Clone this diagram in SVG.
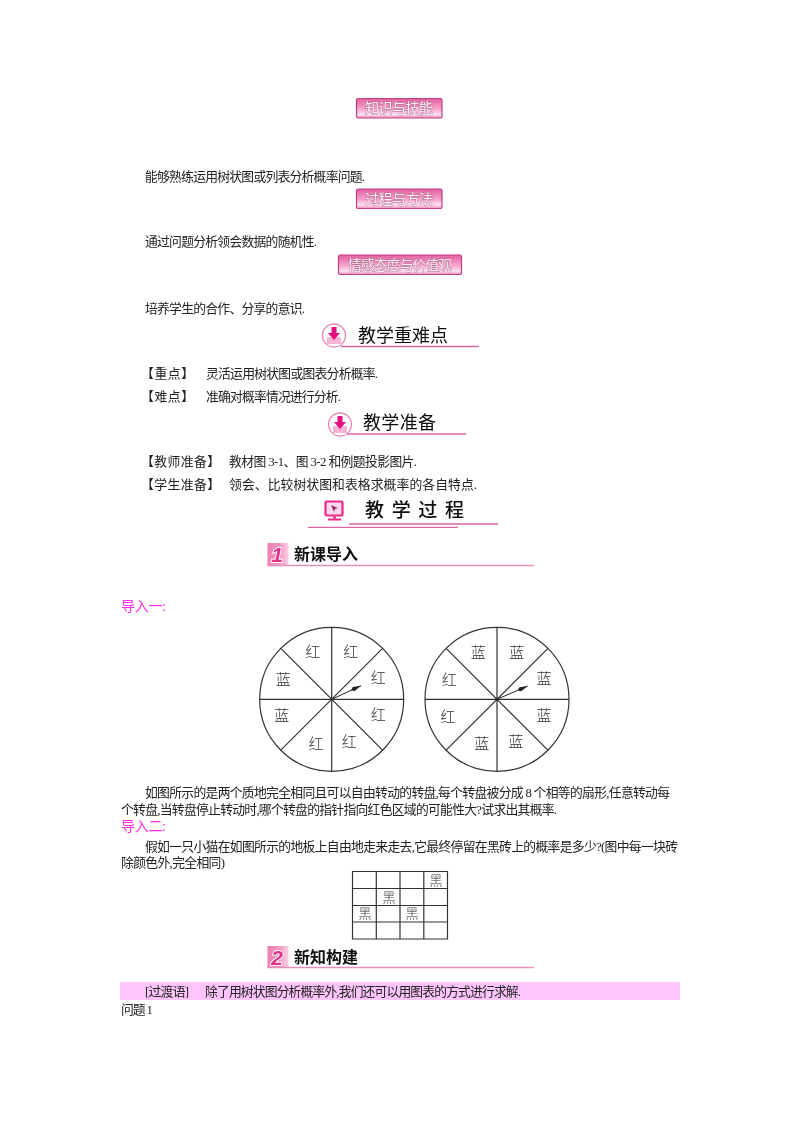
<svg xmlns="http://www.w3.org/2000/svg" width="800" height="1132" viewBox="0 0 800 1132">
<style>
text{font-family:"Liberation Serif","Noto Sans CJK SC",serif}
.b{font-size:12.800px;fill:#222}
.m{font-size:14px;fill:#ff2fe0}
.bt{font-size:14px;fill:#fdf0f7;stroke:#b0628c;stroke-width:.800;paint-order:stroke;text-anchor:middle;font-family:"Noto Sans CJK SC",sans-serif;font-weight:400}
.h{fill:#111;font-family:"Noto Sans CJK SC",sans-serif}
.w{font-size:15px;fill:#333;text-anchor:middle;font-family:"Noto Sans CJK SC",sans-serif;font-weight:300}
.g{font-size:13px;fill:#333;text-anchor:middle;font-family:"Noto Sans CJK SC",sans-serif;font-weight:300}
.r{fill:url(#bg);stroke:#c23f82;stroke-width:1.200}
.u{stroke:#d765a8;stroke-width:1.300;fill:none}
.u2{stroke:#e58fbd;stroke-width:1.500;fill:none}
.s{stroke:#333;stroke-width:1.200;fill:none}
.gl{stroke:#333;stroke-width:1.200;fill:none}
.c{fill:#fff;stroke:#e884b8;stroke-width:1.300}
.ar{fill:#e6107e}
.tray{fill:#f6b5d5}
.bd{fill:url(#bd)}
.nm{font-size:21px;font-weight:700;font-style:italic;fill:#e0308a;stroke:#fff;stroke-width:1.800;paint-order:stroke;font-family:"Liberation Sans",sans-serif;text-anchor:middle}
</style>
<defs>
<linearGradient id="bg" x1="0" y1="0" x2="0" y2="1"><stop offset="0" stop-color="#e4609f"/><stop offset=".55" stop-color="#f7a4cc"/><stop offset=".82" stop-color="#fde2ef"/><stop offset="1" stop-color="#ee8ab9"/></linearGradient>
<linearGradient id="bd" x1="0" y1="0" x2="1" y2="0"><stop offset="0" stop-color="#ee7fb2"/><stop offset=".6" stop-color="#f29ac4"/><stop offset="1" stop-color="#fbd0e4"/></linearGradient>
<marker id="pt" markerWidth="12" markerHeight="6" refX="11" refY="3" orient="auto" markerUnits="userSpaceOnUse"><path d="M0 3L3 .8L11 3L3 5.200Z" fill="#222"/></marker>
<filter id="soft" filterUnits="userSpaceOnUse" x="0" y="0" width="800" height="1132"><feGaussianBlur stdDeviation="0.35"/></filter>
</defs>
<rect width="800" height="1132" fill="#fff"/>
<g id="page" filter="url(#soft)">
<g id="banner1"><rect class="r" x="356.500" y="98.500" width="85.500" height="19.500" rx="1.500"/><text class="bt" x="399" y="113" textLength="68">知识与技能</text></g>
<g id="banner2"><rect class="r" x="356.500" y="189" width="85.500" height="19.500" rx="1.500"/><text class="bt" x="399" y="203.500" textLength="68">过程与方法</text></g>
<g id="banner3"><rect class="r" x="338.500" y="255" width="123" height="19.500" rx="1.500"/><text class="bt" x="400" y="269.500" textLength="104">情感态度与价值观</text></g>
<g id="body">
<text class="b" x="145" y="180.500" textLength="220">能够熟练运用树状图或列表分析概率问题.</text>
<text class="b" x="145" y="245.500" textLength="172">通过问题分析领会数据的随机性.</text>
<text class="b" x="145" y="312.500" textLength="160">培养学生的合作、分享的意识.</text>
<text class="b" x="141" y="377.500" textLength="53">【重点】</text>
<text class="b" x="206" y="377.500" textLength="172">灵活运用树状图或图表分析概率.</text>
<text class="b" x="141" y="400.500" textLength="53">【难点】</text>
<text class="b" x="206" y="400.500" textLength="135">准确对概率情况进行分析.</text>
<text class="b" x="141" y="465.500" textLength="79">【教师准备】</text>
<text class="b" x="229" y="465.500" textLength="188">教材图 3-1、图 3-2 和例题投影图片.</text>
<text class="b" x="141" y="488.500" textLength="79">【学生准备】</text>
<text class="b" x="229" y="488.500" textLength="248">领会、比较树状图和表格求概率的各自特点.</text>
<text class="m" x="121" y="610.500" textLength="45">导入一:</text>
<text class="b" x="145" y="796.500" textLength="525">如图所示的是两个质地完全相同且可以自由转动的转盘,每个转盘被分成 8 个相等的扇形,任意转动每</text>
<text class="b" x="121" y="813.500" textLength="436">个转盘,当转盘停止转动时,哪个转盘的指针指向红色区域的可能性大?试求出其概率.</text>
<text class="m" x="121" y="830.500" textLength="45">导入二:</text>
<text class="b" x="145" y="850.500" textLength="533">假如一只小猫在如图所示的地板上自由地走来走去,它最终停留在黑砖上的概率是多少?(图中每一块砖</text>
<text class="b" x="121" y="866.500" textLength="104">除颜色外,完全相同)</text>
</g>
<g id="heading-zhongnandian"><circle class="c" cx="334" cy="335.500" r="11.500"/><path class="tray" d="M327 337h14v7h-14z"/><path class="ar" d="M331.500 327h5v6h3.500l-6 7l-6-7h3.500z"/><text class="h" x="358" y="341.500" font-size="18" textLength="90">教学重难点</text><path class="u" d="M341 346.500H479"/></g>
<g id="heading-zhunbei"><circle class="c" cx="340" cy="424.500" r="11.500"/><path class="tray" d="M333 426h14v7h-14z"/><path class="ar" d="M337.500 416h5v6h3.500l-6 7l-6-7h3.500z"/><text class="h" x="363" y="429" font-size="18" textLength="73">教学准备</text><path class="u" d="M347 434H466"/></g>
<g id="heading-guocheng"><rect x="325.500" y="501.500" width="17" height="14" rx="1.500" fill="#fbd9ea" stroke="#e8298a" stroke-width="2.200"/><path d="M331 505l7 3l-3 1l-1 3z" fill="#9c2a66"/><path d="M333 516.500h3v2h-3z" fill="#e8298a"/><rect x="328" y="518.500" width="13" height="2" fill="#e8298a"/><text class="h" x="365" y="517" font-size="19" font-weight="500" textLength="99">教学过程</text><path class="u" d="M349 524H498M308 527.300H458"/></g>
<g id="section1"><rect class="bd" x="267.500" y="543" width="21" height="23"/><text class="nm" x="277" y="562">1</text><text class="h" x="294" y="560" font-size="16" font-weight="700" textLength="64">新课导入</text><path class="u2" d="M267 565.500H534"/></g>
<g id="wheel1" transform="translate(331.700 699.300)"><circle class="s" r="72"/><path class="s" d="M-72 0H72M0-72V72M-50.900-50.900L50.900 50.900M50.900-50.900L-50.900 50.900"/><path d="M0 0L29.300-13.600" stroke="#222" stroke-width="1" marker-end="url(#pt)"/>
<text class="w" x="-19" y="-42.500">红</text><text class="w" x="19" y="-42">红</text><text class="w" x="46.600" y="-16">红</text><text class="w" x="-48.400" y="-14.300">蓝</text><text class="w" x="-50" y="21.700">蓝</text><text class="w" x="46.600" y="20.700">红</text><text class="w" x="17.600" y="47.400">红</text><text class="w" x="-15.700" y="49.700">红</text></g>
<g id="wheel2" transform="translate(497 699.300)"><circle class="s" r="72"/><path class="s" d="M-72 0H72M0-72V72M-50.900-50.900L50.900 50.900M50.900-50.900L-50.900 50.900"/><path d="M0 0L30.700-13.300" stroke="#222" stroke-width="1" marker-end="url(#pt)"/>
<text class="w" x="-18.700" y="-41.600">蓝</text><text class="w" x="19.700" y="-41">蓝</text><text class="w" x="47" y="-15">蓝</text><text class="w" x="-47.700" y="-14.300">红</text><text class="w" x="-49.300" y="22.400">红</text><text class="w" x="47" y="21.400">蓝</text><text class="w" x="18.700" y="48">蓝</text><text class="w" x="-15.300" y="50">蓝</text></g>
<g id="grid"><path class="gl" d="M352.500 871.500H447.500V939H352.500ZM352.500 888.500H447.500M352.500 905.500H447.500M352.500 922H447.500M376.300 871.500V939M400 871.500V939M423.800 871.500V939"/>
<text class="g" x="436" y="885">黑</text><text class="g" x="389" y="902">黑</text><text class="g" x="365" y="918">黑</text><text class="g" x="412" y="918">黑</text></g>
<g id="section2"><rect class="bd" x="267.500" y="946" width="21" height="22"/><text class="nm" x="277" y="965">2</text><text class="h" x="294" y="963" font-size="16" font-weight="700" textLength="64">新知构建</text><path class="u2" d="M267 967.500H534"/></g>
<g id="transition"><rect x="120" y="982" width="560" height="18" fill="#fdc5fb"/><text class="b" x="145" y="995.500" textLength="44">[过渡语]</text><text class="b" x="205" y="995.500" textLength="316">除了用树状图分析概率外,我们还可以用图表的方式进行求解.</text><text class="b" x="121" y="1013.500" textLength="32">问题 1</text></g>
</g>
</svg>
